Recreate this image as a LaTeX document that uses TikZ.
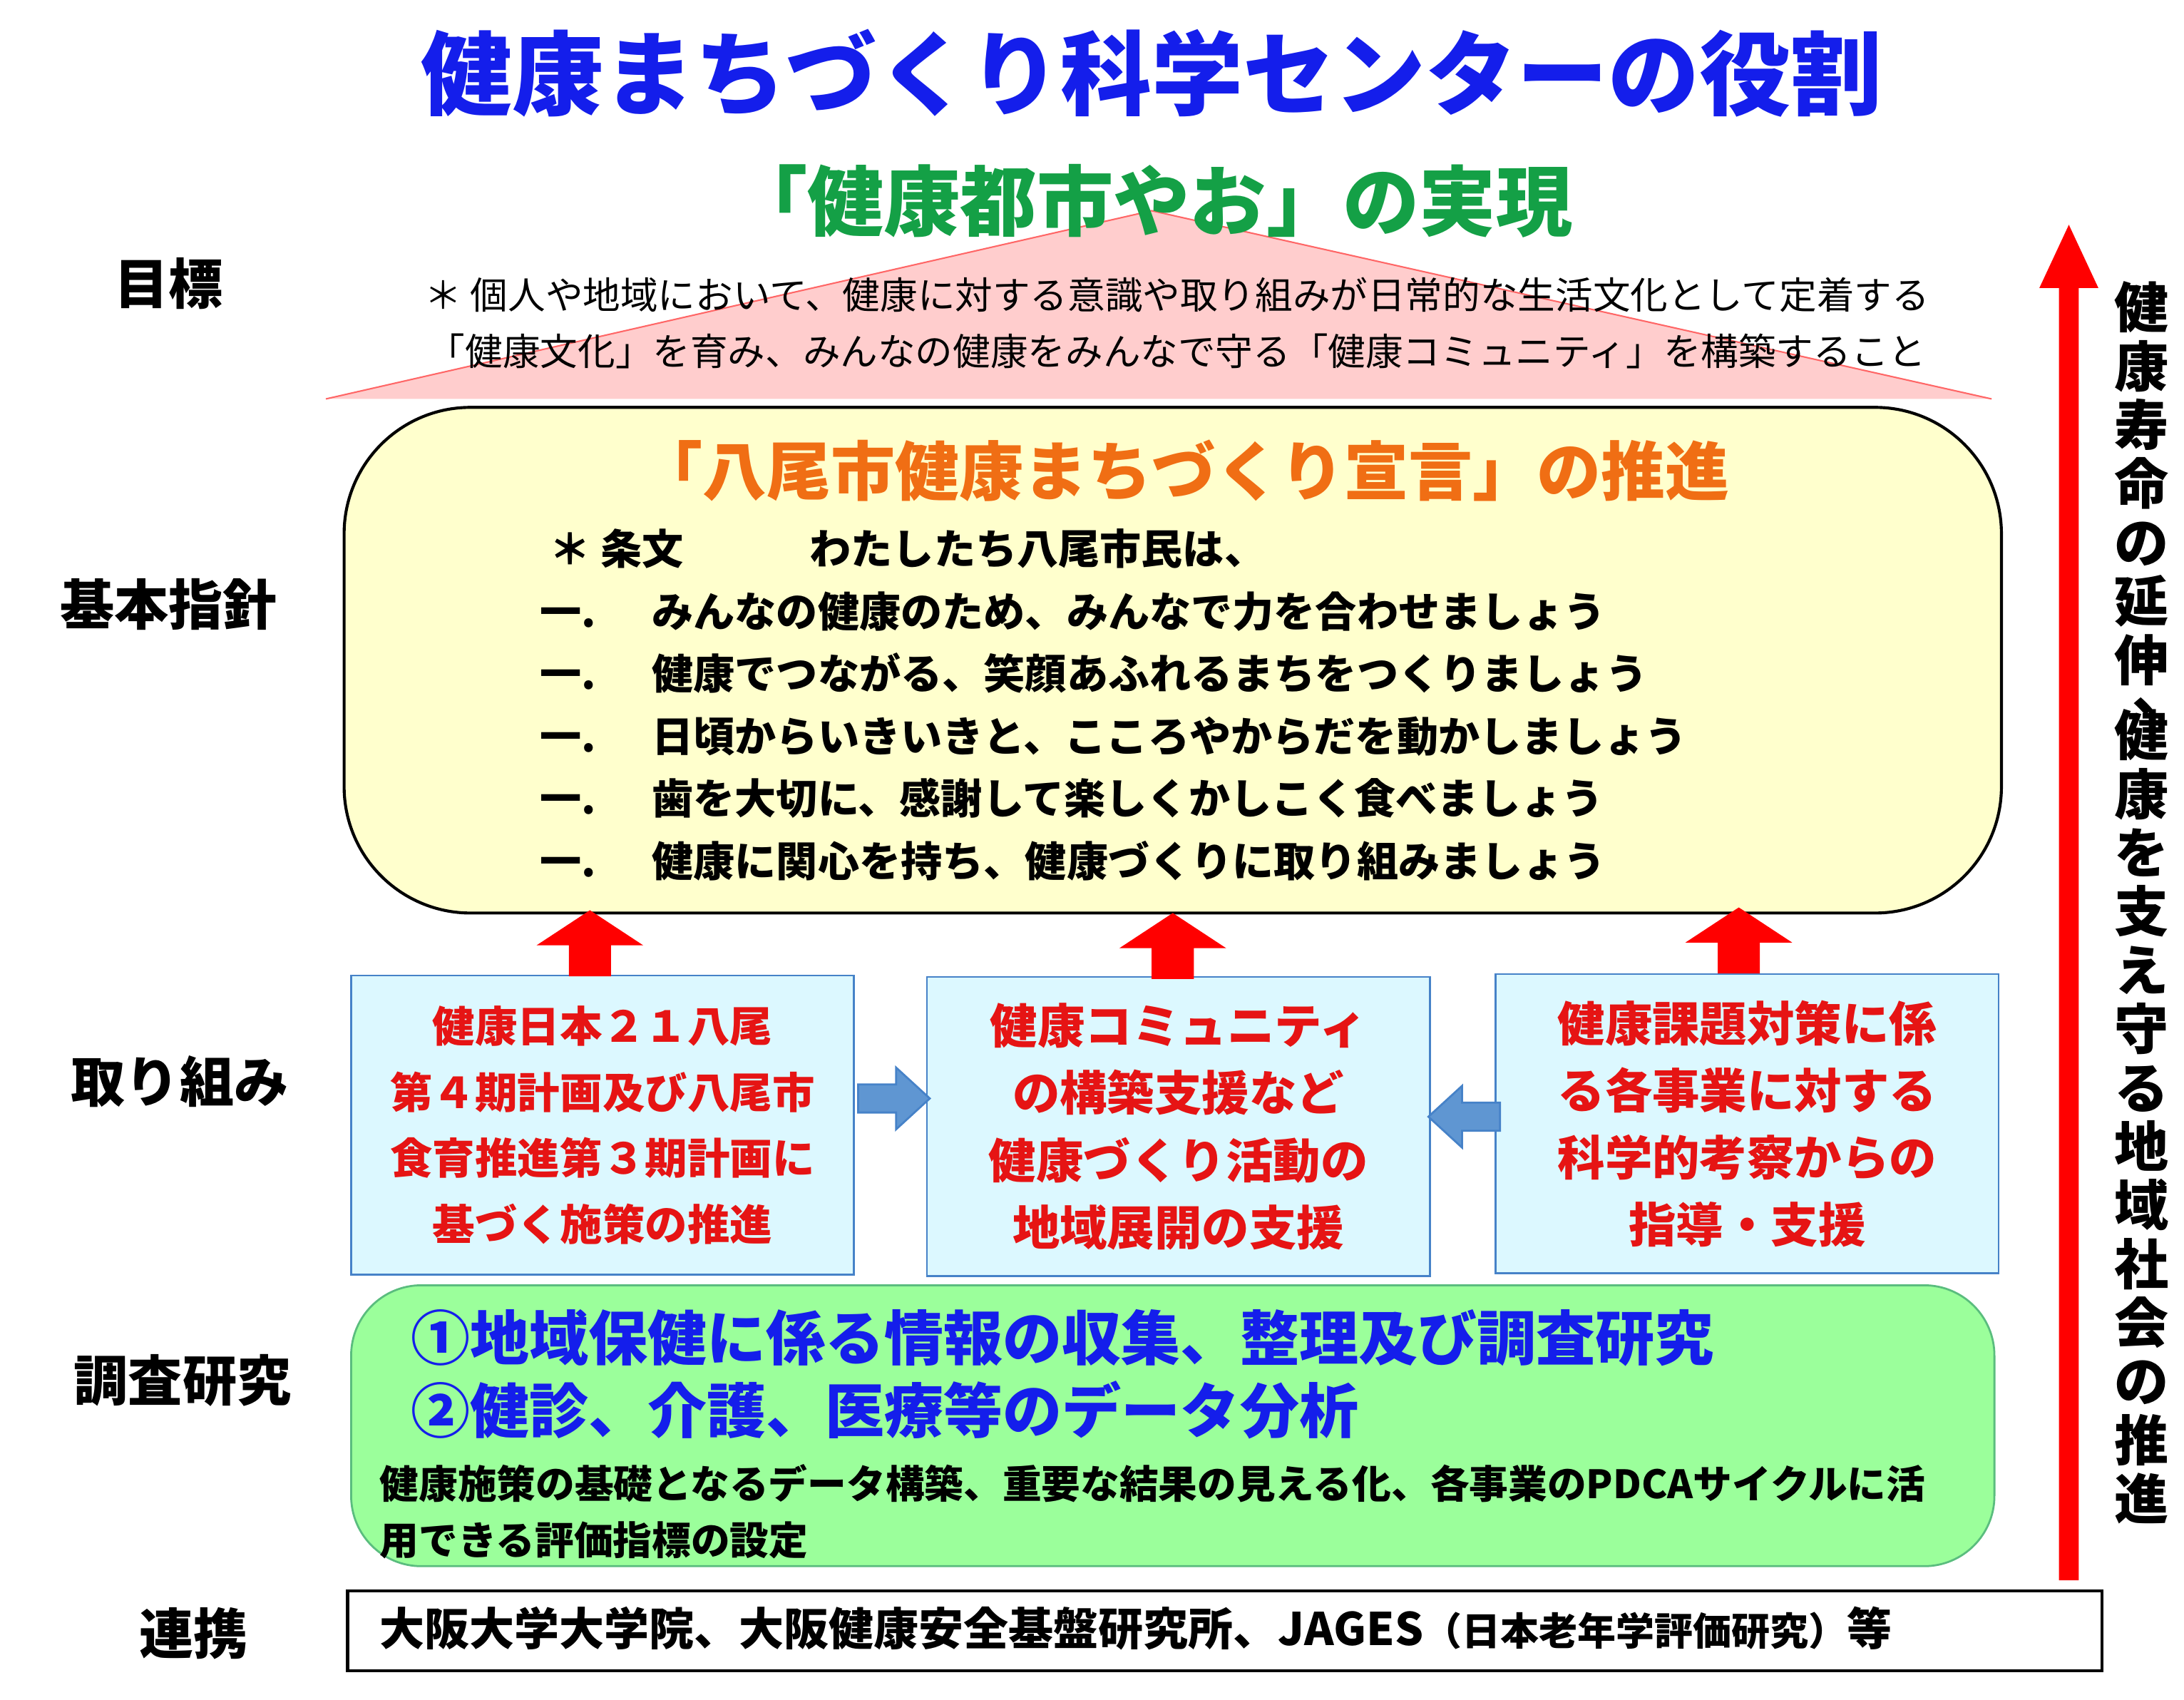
\documentclass[tikz,border=0pt]{standalone}
\usepackage{fontspec}
\setmainfont{Noto Sans CJK JP}
\usetikzlibrary{positioning}
\definecolor{titleblue}{RGB}{20,30,235}
\definecolor{goalgreen}{RGB}{20,160,70}
\definecolor{declorange}{RGB}{240,110,20}
\definecolor{pinkfill}{RGB}{255,205,205}
\definecolor{yellowfill}{RGB}{255,255,205}
\definecolor{cyanfill}{RGB}{220,248,255}
\definecolor{cyanline}{RGB}{70,130,200}
\definecolor{greenfill}{RGB}{155,255,155}
\definecolor{arrowblue}{RGB}{95,150,210}
\definecolor{actred}{RGB}{230,20,20}
\tikzset{
  rowlabel/.style={font=\fontsize{11}{13}\selectfont\bfseries, anchor=center},
  actbox/.style={rectangle, draw=cyanline, fill=cyanfill, minimum width=35.8mm, minimum height=21.3mm, align=center, text=actred, font=\fontsize{9.6}{13.6}\selectfont\bfseries},
  redup/.style={fill=red},
  bluearrow/.style={fill=arrowblue, draw=cyanline, line width=0.4pt}
}
\newcommand{\uparrowat}[2]{%
  \fill[redup] (#1-15,#2) -- (#1+15,#2) -- (#1+15,#2-22) -- (#1+38,#2-22) -- (#1,#2-47) -- (#1-38,#2-22) -- (#1-15,#2-22) -- cycle;}
\begin{document}
\begin{tikzpicture}[x=0.1mm,y=-0.1mm]
\useasboundingbox (0,0) rectangle (1555,1210);

% title
\node (title) at (820,52) {\fontsize{18.5}{20}\selectfont\bfseries\color{titleblue}健康まちづくり科学センターの役割};

% goal
\fill[pinkfill] (232,284) -- (820,150) -- (1418,284) -- cycle;
\draw[red!60, line width=0.3pt] (232,284) -- (820,150) -- (1418,284);
\node (goal) at (820,143) {\fontsize{15.5}{17}\selectfont\bfseries\color{goalgreen}「健康都市やお」の実現};
\node (goaltext) [align=center, font=\fontsize{7.6}{11.4}\selectfont] at (838,230) {＊ 個人や地域において、健康に対する意識や取り組みが日常的な生活文化として定着する\\「健康文化」を育み、みんなの健康をみんなで守る「健康コミュニティ」を構築すること};

% declaration
\node (decl) [rectangle, rounded corners=9mm, draw=black, line width=0.6pt, fill=yellowfill, minimum width=118mm, minimum height=36mm] at (835,470) {};
\node (decltitle) at (843,335) {\fontsize{13}{15}\selectfont\bfseries\color{declorange}「八尾市健康まちづくり宣言」の推進};
\node (decltext) [anchor=north west, align=left, font=\fontsize{8.4}{12.65}\selectfont\bfseries] at (372,364) {\ ＊ 条文\hspace{9mm}わたしたち八尾市民は、\\
一.\hspace{4mm}みんなの健康のため、みんなで力を合わせましょう\\
一.\hspace{4mm}健康でつながる、笑顔あふれるまちをつくりましょう\\
一.\hspace{4mm}日頃からいきいきと、こころやからだを動かしましょう\\
一.\hspace{4mm}歯を大切に、感謝して楽しくかしこく食べましょう\\
一.\hspace{4mm}健康に関心を持ち、健康づくりに取り組みましょう};

% activities
\node (actA) [actbox, font=\fontsize{8.6}{13.4}\selectfont\bfseries] at (429,801) {健康日本２１八尾\\第４期計画及び八尾市\\食育推進第３期計画に\\基づく施策の推進};
\node (actB) [actbox] at (839,802) {健康コミュニティ\\の構築支援など\\健康づくり活動の\\地域展開の支援};
\node (actC) [actbox] at (1244,800) {健康課題対策に係\\る各事業に対する\\科学的考察からの\\指導・支援};

\uparrowat{420}{695}
\uparrowat{835}{697}
\uparrowat{1238}{693}

\draw[bluearrow] (611,772) -- (638,772) -- (638,760) -- (662,782) -- (638,804) -- (638,792) -- (611,792) -- cycle;
\draw[bluearrow] (1068,785) -- (1041,785) -- (1041,773) -- (1017,795) -- (1041,817) -- (1041,805) -- (1068,805) -- cycle;

% research
\node (research) [rectangle, rounded corners=5mm, draw=goalgreen!70, fill=greenfill, minimum width=117mm, minimum height=20mm] at (835,1015) {};
\node (restitle) [anchor=north west, align=left, font=\fontsize{12}{14.7}\selectfont\bfseries, text=titleblue] at (280,920) {①地域保健に係る情報の収集、整理及び調査研究\\②健診、介護、医療等のデータ分析};
\node (restext) [anchor=north west, align=left, font=\fontsize{7.9}{11.4}\selectfont\bfseries] at (258,1030) {健康施策の基礎となるデータ構築、重要な結果の見える化、各事業のPDCAサイクルに活\\用できる評価指標の設定};

% partners
\node (partner) [rectangle, draw=black, line width=0.6pt, minimum width=124.9mm, minimum height=5.7mm] at (872,1161) {};
\node (partnertext) [anchor=west, font=\fontsize{9.1}{10}\selectfont\bfseries] at (258,1159) {大阪大学大学院、大阪健康安全基盤研究所、JAGES{\fontsize{7.8}{9}\selectfont（日本老年学評価研究）}等};

% row labels
\node (lgoal) [rowlabel] at (120,202) {目標};
\node (lpolicy) [rowlabel] at (120,430) {基本指針};
\node (lact) [rowlabel] at (128,770) {取り組み};
\node (lres) [rowlabel] at (130,983) {調査研究};
\node (lpart) [rowlabel] at (138,1163) {連携};

% right arrow
\fill[red] (1466,1125) -- (1480,1125) -- (1480,205) -- (1494,205) -- (1473,160) -- (1452,205) -- (1466,205) -- cycle;
\node (vert) [anchor=north, align=center, font=\fontsize{11}{11.9}\selectfont\bfseries] at (1525,188) {健\\康\\寿\\命\\の\\延\\伸\\[-2mm]\hspace{2.5mm}、\\[-1mm]健\\康\\を\\支\\え\\守\\る\\地\\域\\社\\会\\の\\推\\進};
\end{tikzpicture}
\end{document}
